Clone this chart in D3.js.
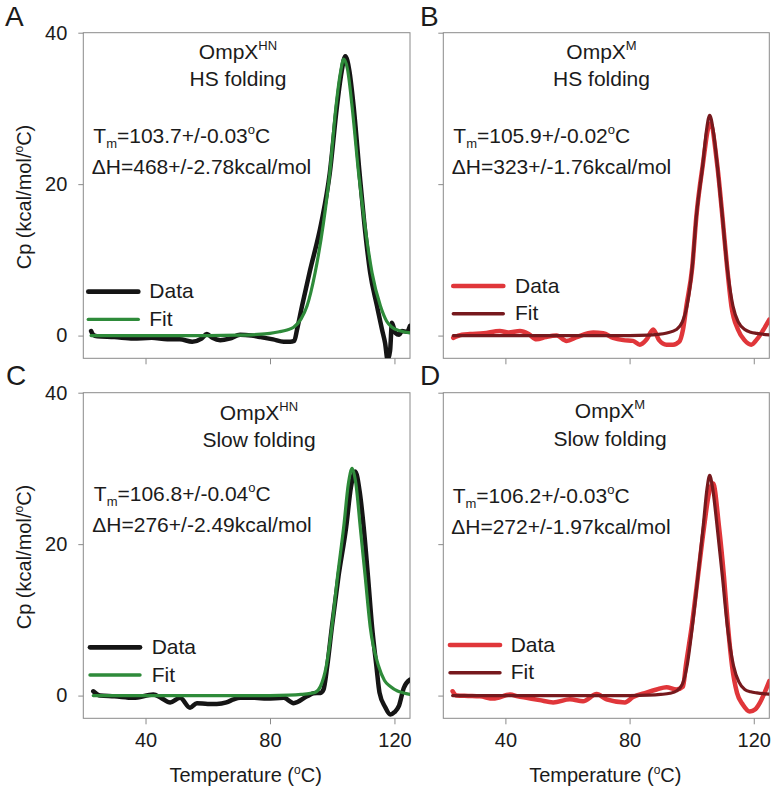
<!DOCTYPE html>
<html><head><meta charset="utf-8">
<script src="https://cdn.jsdelivr.net/npm/d3@7"></script>
<style>
body{margin:0;background:#fff}
svg{display:block}
text{font-family:"Liberation Sans",Arial,Helvetica,sans-serif;fill:#1b1b1b}
</style>
</head><body>
<svg id="chart" width="776" height="794"></svg>
<script>
// ---------- data ----------
const xTicks = [40, 80, 120];
const yTicks = [0, 20, 40];
const xDomain = [20, 125];
const yDomain = [-3, 40];

const panelLetters = ["A", "B", "C", "D"];
const proteinSup = ["HN", "M", "HN", "M"];
const conditions = ["HS folding", "HS folding", "Slow folding", "Slow folding"];
const tmTexts = ["103.7+/-0.03", "105.9+/-0.02", "106.8+/-0.04", "106.2+/-0.03"];
const dhTexts = ["468+/-2.78", "323+/-1.76", "276+/-2.49", "272+/-1.97"];
const seriesNames = ["Data", "Fit"];

// Panel A: OmpX HN, HS folding
const dataA_T = [22.5,23.2,24.5,30,36,42,47,51,55,58,59.7,61.5,64,67,70.4,74,77,81,84.4,86.5,87.8,88.7,90.3,92.7,96.5,99.2,101.5,103,104.2,105.5,106.9,108.8,110.3,112.2,114.4,116,117,117.8,118.6,119.2,120.3,121.5,122.4,124,125];
const dataA_Cp = [0.6,0.1,-0.1,-0.2,-0.4,-0.3,-0.5,-0.5,-0.8,-0.4,0.2,-0.3,-0.6,-0.4,0.1,0.0,-0.2,-0.5,-0.8,-0.8,-0.7,0.8,3.9,8.3,14.9,21.4,30.2,34.8,36.9,35,30.2,21.4,14.9,8.3,3.9,0.8,-1.0,-3.2,-2.0,1.7,0.35,0.1,0.6,0.5,1.3];
const fitA_T = [22.5,40,60,70,76,80,83,85.5,87.6,90,91.9,94.5,97.2,99.2,101.2,102.6,103.7,104.9,106.4,108.5,110.4,112.8,115.5,117.5,119.2,122,125];
const fitA_Cp = [0,0,0,0.05,0.15,0.3,0.5,0.75,1.1,2.2,3.9,8.3,14.9,21.4,30.2,34.6,36.5,35.2,30.2,21.4,14.9,8.3,3.9,1.9,1.1,0.6,0.35];

// Panel B: OmpX M, HS folding
const dataB_T = [23.2,26,28.6,33,38.2,41,44.7,47.5,50,53,56.5,59.7,63,68.3,71.5,74.7,78,81.1,83.3,85.5,87.6,89.5,91.9,94,96,97.2,98.3,100.2,101.5,103.5,105.9,108.3,109.9,111.4,112.8,114.9,117,119.2,121,123,125];
const dataB_Cp = [-0.3,0.1,0.2,0.3,0.6,0.4,0.6,0.2,-0.5,-0.2,0.0,-0.7,-0.2,0.4,0.3,-0.3,-0.6,-0.7,-1.2,-0.5,0.8,-0.6,-1.2,-1.2,-0.8,0.8,3.9,9.1,15.7,22.3,28.0,22.3,15.7,9.1,3.9,0.8,-0.6,-1.2,-0.5,0.7,2.1];
const fitB_T = [23.2,60,80,86,89,92,95.1,97,98.5,100.2,101.5,103.5,104.8,105.8,106.9,108.3,109.9,111.4,113.3,115,117.1,119,121,125];
const fitB_Cp = [0,0,0,0.05,0.15,0.35,0.8,1.8,3.9,9.1,15.7,22.3,27.2,29.1,27.2,22.3,15.7,9.1,3.9,1.8,0.8,0.45,0.3,0.1];

// Panel C: OmpX HN, Slow folding
const dataC_T = [23.2,25.4,30,36.1,42.5,45,47.9,51.1,54.3,56.5,60,62.9,66,68.3,70.4,75,79,84.4,87.6,91.9,94,96.2,97.2,98.4,99.9,102.0,104.5,106,107.4,108.8,110.1,111.5,112.8,114.2,115.2,117,118.7,120,121.4,123,125];
const dataC_Cp = [0.57,0,-0.1,-0.3,0.13,-0.3,-0.9,-0.3,-1.6,-1.0,-1.1,-1.1,-0.9,-0.5,-0.3,-0.3,-0.4,-0.3,-1.0,-0.1,0.3,0.35,0.8,3.9,9.1,15.7,22.3,27.5,29.6,27,22.3,15.7,9.1,3.9,0.4,-1.5,-2.5,-2.2,-1.4,1.0,2.1];
const fitC_T = [23.2,60,80,86,90,93,94.6,96.2,98.1,99.9,101.7,103.7,105.2,106.4,107.6,109.0,110.6,112.2,114.9,116.8,118.7,121,123,125];
const fitC_Cp = [0,0,0,0.05,0.15,0.3,0.45,1.2,3.9,9.1,15.7,22.3,28,30,28,22.3,15.7,9.1,3.9,2.0,1.2,0.6,0.35,0.15];

// Panel D: OmpX M, Slow folding
const dataD_T = [23.0,24.3,28,31.8,36.1,41.5,44,46.8,51,55.4,60.8,65.0,69.4,72.6,78.5,81.1,85.4,88.7,91.9,95.1,97.2,98.1,100.0,102.0,104.0,105.6,106.9,108.8,110.4,111.7,113.0,114.6,116.5,118.7,120.5,121.9,123.5,125];
const dataD_Cp = [0.57,0.0,-0.05,-0.1,-0.4,0.13,-0.1,-0.3,-0.6,-0.9,-0.5,-0.75,0.2,-0.5,-0.9,-0.2,0.4,0.8,1.1,0.8,1.2,3.9,9.1,15.7,22.3,26.8,28.0,22.3,15.7,9.1,3.9,0.35,-1.2,-2.1,-1.8,-1.0,0.4,1.9];
const fitD_T = [23.0,60,80,86,90,93,95.1,97,98.5,100.2,102.0,103.7,105,105.8,106.7,108.2,109.9,111.5,113.5,115.2,117.1,119,121,125];
const fitD_Cp = [0,0,0,0.05,0.15,0.3,0.6,1.5,3.9,9.1,15.7,22.3,27.5,29.1,27.5,22.3,15.7,9.1,3.9,1.8,0.8,0.5,0.35,0.2];

// ---------- layout & style ----------
const series = [
  {data:[dataA_T,dataA_Cp], fit:[fitA_T,fitA_Cp]},
  {data:[dataB_T,dataB_Cp], fit:[fitB_T,fitB_Cp]},
  {data:[dataC_T,dataC_Cp], fit:[fitC_T,fitC_Cp]},
  {data:[dataD_T,dataD_Cp], fit:[fitD_T,fitD_Cp]}
];
const boxes = [
  {L:83.3, R:410,   T:32.7,  B:358.3},
  {L:443.3,R:769.3, T:32.7,  B:358.3},
  {L:83.3, R:410,   T:392.7, B:718.3},
  {L:443.3,R:769.3, T:392.7, B:718.3}
];
const txt = [
  {title:154.7, t1:26.6, t2:53.3, ann:10,  tm:110.6, dh:141.6, legX0:5,  legX1:55,   legTx:66,   legY:259},
  {title:158.2, t1:26.6, t2:53.3, ann:10,  tm:110.6, dh:141.3, legX0:10, legX1:60,   legTx:71.7, legY:253.3},
  {title:175.7, t1:27.3, t2:54.6, ann:10.5,tm:108,   dh:139,   legX0:6.7,legX1:56.7, legTx:68.4, legY:254.6},
  {title:166.7, t1:25.6, t2:53.3, ann:9.4, tm:110,   dh:141.3, legX0:6.7,legX1:56.7, legTx:67.4, legY:252.3}
];
const letterPos = [[5,26],[420,26],[6,385],[420,385]];
const palettes = [
  {data:"#151515", fit:"#2e8b3a"},
  {data:"#e0363a", fit:"#76191d"},
  {data:"#151515", fit:"#2e8b3a"},
  {data:"#e0363a", fit:"#76191d"}
];
const frameColor = "#8a8a8a";
const FS = 20;

const svg = d3.select("#chart");
const defs = svg.append("defs");

boxes.forEach((b, i) => {
  const x = d3.scaleLinear().domain(xDomain).range([b.L, b.R]);
  const y = d3.scaleLinear().domain(yDomain).range([b.B, b.T]);
  const g = svg.append("g");

  defs.append("clipPath").attr("id", "clip" + i)
    .append("rect").attr("x", b.L).attr("y", b.T).attr("width", b.R - b.L).attr("height", b.B - b.T);

  // axes (ticks)
  const yAx = d3.axisLeft(y).tickValues(yTicks).tickSize(5).tickPadding(11)
    .tickFormat(i % 2 === 0 ? d3.format("d") : () => "");
  const gy = g.append("g").attr("transform", `translate(${b.L},0)`).call(yAx);
  const xAx = d3.axisBottom(x).tickValues(xTicks).tickSize(6).tickPadding(9)
    .tickFormat(i >= 2 ? d3.format("d") : () => "");
  const gx = g.append("g").attr("transform", `translate(0,${b.B})`).call(xAx);
  [gy, gx].forEach(a => {
    a.select(".domain").remove();
    a.selectAll(".tick line").attr("stroke", frameColor).attr("stroke-width", 1);
    a.selectAll(".tick text").attr("font-size", FS).attr("fill", "#1b1b1b")
      .style("font-family", '"Liberation Sans",Arial,sans-serif');
  });

  // frame
  g.append("rect").attr("x", b.L).attr("y", b.T).attr("width", b.R - b.L).attr("height", b.B - b.T)
    .attr("fill", "none").attr("stroke", frameColor).attr("stroke-width", 1);

  // curves
  const line = d3.line().x(d => x(d[0])).y(d => y(d[1])).curve(d3.curveMonotoneX);
  const s = series[i];
  const dPts = d3.zip(s.data[0], s.data[1]);
  const fPts = d3.zip(s.fit[0], s.fit[1]);
  const cg = g.append("g").attr("clip-path", `url(#clip${i})`);
  cg.append("path").attr("d", line(dPts)).attr("fill", "none")
    .attr("stroke", palettes[i].data).attr("stroke-width", 4.5)
    .attr("stroke-linejoin", "round").attr("stroke-linecap", "round");
  cg.append("path").attr("d", line(fPts)).attr("fill", "none")
    .attr("stroke", palettes[i].fit).attr("stroke-width", 3.2)
    .attr("stroke-linejoin", "round").attr("stroke-linecap", "round");

  // annotations
  const t = txt[i];
  const title = g.append("text").attr("x", b.L + t.title).attr("y", b.T + t.t1)
    .attr("text-anchor", "middle").attr("font-size", 21);
  title.append("tspan").text("OmpX");
  title.append("tspan").attr("font-size", 13).attr("dy", -9.5).text(proteinSup[i]);
  g.append("text").attr("x", b.L + t.title).attr("y", b.T + t.t2)
    .attr("text-anchor", "middle").attr("font-size", 21).text(conditions[i]);

  const tm = g.append("text").attr("x", b.L + t.ann).attr("y", b.T + t.tm).attr("font-size", 21);
  tm.append("tspan").text("T");
  tm.append("tspan").attr("font-size", 13).attr("dy", 5).text("m");
  tm.append("tspan").attr("dy", -5).text("=" + tmTexts[i]);
  tm.append("tspan").attr("font-size", 13).attr("dy", -9).text("o");
  tm.append("tspan").attr("dy", 9).text("C");
  g.append("text").attr("x", b.L + t.ann - 1.5).attr("y", b.T + t.dh).attr("font-size", 21)
    .text("\u0394H=" + dhTexts[i] + "kcal/mol");

  // legend
  [0, 1].forEach(k => {
    const ly = b.T + t.legY + k * 27.7;
    g.append("line").attr("x1", b.L + t.legX0).attr("x2", b.L + t.legX1)
      .attr("y1", ly).attr("y2", ly)
      .attr("stroke", k === 0 ? palettes[i].data : palettes[i].fit)
      .attr("stroke-width", k === 0 ? 4.7 : 3.4).attr("stroke-linecap", "round");
    g.append("text").attr("x", b.L + t.legTx).attr("y", ly + 6.7)
      .attr("font-size", 21).text(seriesNames[k]);
  });

  // panel letter
  svg.append("text").attr("x", letterPos[i][0]).attr("y", letterPos[i][1])
    .attr("font-size", 28).text(panelLetters[i]);

  // axis titles
  if (i % 2 === 0) {
    const yt = svg.append("text")
      .attr("transform", `translate(31,${(b.T + b.B) / 2 + 1.5}) rotate(-90)`)
      .attr("text-anchor", "middle").attr("font-size", FS);
    yt.append("tspan").text("Cp (kcal/mol/");
    yt.append("tspan").attr("font-size", 12).attr("dy", -8).text("o");
    yt.append("tspan").attr("dy", 8).text("C)");
  }
  if (i >= 2) {
    const xt = svg.append("text").attr("x", (b.L + b.R) / 2 - 1).attr("y", 782)
      .attr("text-anchor", "middle").attr("font-size", FS);
    xt.append("tspan").text("Temperature (");
    xt.append("tspan").attr("font-size", 12).attr("dy", -8).text("o");
    xt.append("tspan").attr("dy", 8).text("C)");
  }
});
</script>
</body></html>
